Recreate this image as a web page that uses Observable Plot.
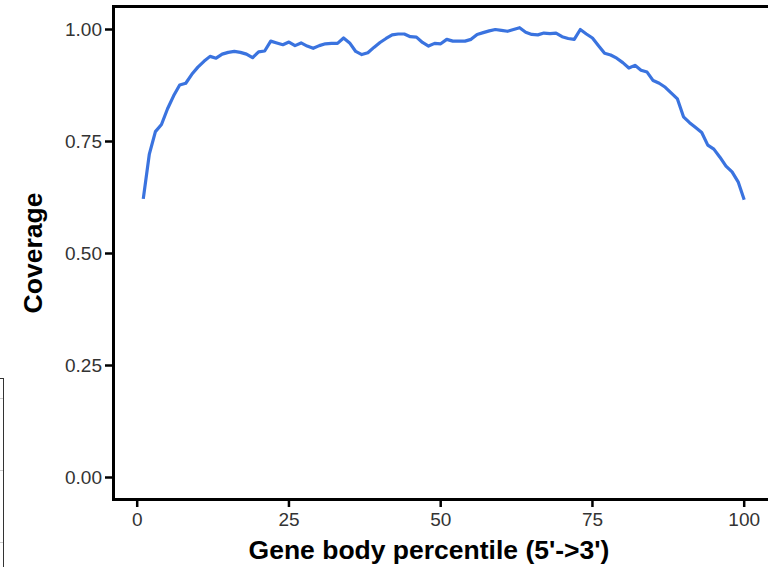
<!DOCTYPE html>
<html>
<head>
<meta charset="utf-8">
<script src="https://cdn.jsdelivr.net/npm/d3@7"></script>
<script src="https://cdn.jsdelivr.net/npm/@observablehq/plot@0.6"></script>
<style>
  body { margin: 0; background: #fff; }
  #wrap { position: relative; width: 768px; height: 567px; overflow: hidden; background: #fff; }
  #edge { position: absolute; left: -12px; top: 378px; width: 14px; height: 220px; border: 1.5px solid #333; background: #fff; }
  .tk { position: absolute; left: 0; width: 3px; height: 1px; background: #ccc; }
  #chart { position: absolute; left: 0; top: 0; width: 776px; }
  #chart svg { max-width: none !important; width: 776px; height: 567px; }
</style>
</head>
<body>
<div id="wrap">
  <div id="edge"></div>
  <div class="tk" style="top:398px"></div>
  <div class="tk" style="top:470px"></div>
  <div class="tk" style="top:542px"></div>
  <div id="chart"></div>
</div>
<script>
// Gene body percentile (x) and coverage (y)
const percentile = d3.range(1, 101);
const coverage = [
  0.622, 0.722, 0.772, 0.788, 0.823, 0.852, 0.876, 0.880, 0.900, 0.916,
  0.929, 0.940, 0.936, 0.945, 0.949, 0.951, 0.949, 0.945, 0.937, 0.950,
  0.952, 0.974, 0.970, 0.966, 0.972, 0.964, 0.970, 0.963, 0.958, 0.964,
  0.968, 0.969, 0.969, 0.981, 0.970, 0.951, 0.944, 0.948, 0.960, 0.971,
  0.980, 0.988, 0.990, 0.990, 0.984, 0.983, 0.971, 0.963, 0.969, 0.968,
  0.978, 0.974, 0.974, 0.974, 0.978, 0.989, 0.993, 0.997, 1.000, 0.998,
  0.996, 1.000, 1.004, 0.994, 0.989, 0.988, 0.992, 0.991, 0.992, 0.984,
  0.980, 0.978, 1.000, 0.990, 0.981, 0.964, 0.947, 0.943, 0.936, 0.926,
  0.914, 0.920, 0.909, 0.905, 0.886, 0.880, 0.871, 0.858, 0.845, 0.805,
  0.792, 0.781, 0.770, 0.742, 0.733, 0.715, 0.695, 0.682, 0.660, 0.620
];
const xTicks = [0, 25, 50, 75, 100];
const yTicks = [0, 0.25, 0.5, 0.75, 1];
const xTitle = "Gene body percentile (5'->3')";
const yTitle = "Coverage";

const idx = d3.range(percentile.length);

const chart = Plot.plot({
  width: 776,
  height: 567,
  marginLeft: 113,
  marginTop: 6,
  marginBottom: 68,
  marginRight: 0,
  style: {
    fontFamily: "'Liberation Sans', Arial, Helvetica, sans-serif",
    fontSize: "19px",
    color: "#333",
    background: "transparent",
    maxWidth: "none"
  },
  x: { domain: [0, 100], range: [136.7, 743.7] },
  y: { domain: [0, 1], range: [477, 29] },
  marks: [
    Plot.axisY({
      ticks: yTicks,
      tickFormat: d => d.toFixed(2),
      tickSize: 8,
      tickPadding: 3.5,
      strokeWidth: 2.5,
      stroke: "#000",
      label: null,
      fontSize: 19
    }),
    Plot.axisX({
      ticks: xTicks,
      tickFormat: d => String(d),
      tickSize: 8,
      tickPadding: 5,
      strokeWidth: 2.5,
      stroke: "#000",
      label: null,
      fontSize: 19
    }),
    Plot.frame({ stroke: "#000", strokeWidth: 3 }),
    Plot.line(idx, {
      x: i => percentile[i],
      y: i => coverage[i],
      stroke: "#3a73df",
      strokeWidth: 3.2,
      strokeLinejoin: "round",
      strokeLinecap: "butt"
    }),
    Plot.text([xTitle], {
      text: d => d,
      frameAnchor: "bottom",
      textAnchor: "middle",
      lineAnchor: "middle",
      dx: -16,
      dy: 51,
      fontWeight: "bold",
      fontSize: 26.5,
      fill: "#000"
    }),
    Plot.text([yTitle], {
      text: d => d,
      frameAnchor: "left",
      textAnchor: "middle",
      lineAnchor: "middle",
      rotate: -90,
      dx: -80,
      fontWeight: "bold",
      fontSize: 26.5,
      fill: "#000"
    })
  ]
});
document.getElementById("chart").appendChild(chart);
</script>
</body>
</html>
